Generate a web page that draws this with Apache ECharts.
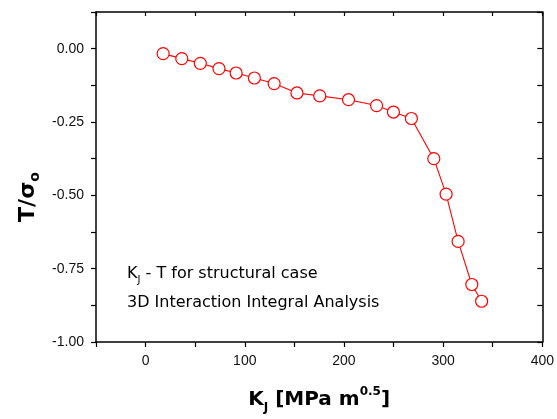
<!DOCTYPE html>
<html>
<head>
<meta charset="utf-8">
<script src="https://cdn.jsdelivr.net/npm/echarts@6/dist/echarts.min.js"></script>
<style>html,body{margin:0;padding:0;background:#fff}#c{width:557px;height:419px}</style>
</head>
<body>
<div id="c"></div>
<script>
var kjValues = [17.7, 36.5, 55.2, 74.0, 91.3, 109.7, 129.6, 152.6, 175.6, 204.6, 232.9, 249.9, 268.0, 290.6, 303.0, 315.1, 328.9, 338.8];
var tValues = [-0.017, -0.034, -0.050, -0.068, -0.083, -0.100, -0.119, -0.151, -0.161, -0.174, -0.194, -0.216, -0.238, -0.375, -0.496, -0.657, -0.804, -0.861];
var xTickLabels = [0, 100, 200, 300, 400];
var yTickLabels = [0.00, -0.25, -0.50, -0.75, -1.00];

var chart = echarts.init(document.getElementById('c'), null, {renderer: 'canvas'});
var pts = kjValues.map(function (k, i) { return [k, tValues[i]]; });
var axisLineStyle = {color: '#000', width: 1.5};
var labelFont = {fontFamily: 'Liberation Sans', fontSize: 14, color: '#111'};

chart.setOption({
  animation: false,
  backgroundColor: '#fff',
  grid: {left: 96, right: 9, top: 12, bottom: 76, containLabel: false},
  xAxis: [{
    type: 'value', min: -50, max: 400, interval: 50, position: 'bottom',
    axisLine: {show: true, onZero: false, lineStyle: axisLineStyle},
    axisTick: {show: true, inside: false, length: 5, lineStyle: {color: '#000', width: 1.2}},
    axisLabel: Object.assign({margin: 12, formatter: function (v) {
      return xTickLabels.indexOf(v) >= 0 ? String(v) : '';
    }}, labelFont),
    splitLine: {show: false},
    name: '{b|K}{s|J}{b| [MPa m}{p|0.5}{b|]}',
    nameLocation: 'middle', nameGap: 44,
    nameTextStyle: {
      rich: {
        b: {fontFamily: 'DejaVu Sans', fontWeight: 'bold', fontSize: 20, color: '#000'},
        s: {fontFamily: 'DejaVu Sans', fontWeight: 'bold', fontSize: 12, color: '#000', padding: [16, 0, 0, 0]},
        p: {fontFamily: 'DejaVu Sans', fontWeight: 'bold', fontSize: 12, color: '#000', padding: [0, 0, 16, 0]}
      }
    }
  }, {
    type: 'value', min: -50, max: 400, interval: 50, position: 'top',
    axisLine: {show: true, onZero: false, lineStyle: axisLineStyle},
    axisTick: {show: true, inside: true, length: 4, lineStyle: {color: '#000', width: 1.2}},
    axisLabel: {show: false}, splitLine: {show: false}
  }],
  yAxis: [{
    type: 'value', min: -1, max: 0.125, interval: 0.125, position: 'left',
    axisLine: {show: true, onZero: false, lineStyle: axisLineStyle},
    axisTick: {show: true, inside: false, length: 5, lineStyle: {color: '#000', width: 1.2}},
    axisLabel: Object.assign({margin: 12, formatter: function (v) {
      for (var i = 0; i < yTickLabels.length; i++) {
        if (Math.abs(v - yTickLabels[i]) < 1e-6) return yTickLabels[i].toFixed(2);
      }
      return '';
    }}, labelFont),
    splitLine: {show: false}
  }, {
    type: 'value', min: -1, max: 0.125, interval: 0.125, position: 'right',
    axisLine: {show: true, onZero: false, lineStyle: axisLineStyle},
    axisTick: {show: true, inside: true, length: 5, lineStyle: {color: '#000', width: 1.2}},
    axisLabel: {show: false}, splitLine: {show: false}
  }],
  graphic: [{
    type: 'text', x: 28, y: 197, rotation: Math.PI / 2,
    style: {
      text: '{b|T/σ}{s|o}',
      align: 'center', verticalAlign: 'middle',
      rich: {
        b: {fontFamily: 'DejaVu Sans', fontWeight: 'bold', fontSize: 22, fill: '#000'},
        s: {fontFamily: 'DejaVu Sans', fontWeight: 'bold', fontSize: 14, fill: '#000', padding: [14, 0, 0, 0]}
      }
    }
  }, {
    type: 'text', left: 127, top: 266,
    style: {
      text: '{m|K}{s|J}{m| - T for structural case}',
      rich: {
        m: {fontFamily: 'DejaVu Sans', fontSize: 16, fill: '#000'},
        s: {fontFamily: 'DejaVu Sans', fontSize: 10, fill: '#000', padding: [12, 0, 0, 0]}
      }
    }
  }, {
    type: 'text', left: 127, top: 295,
    style: {text: '3D Interaction Integral Analysis', font: '16px "DejaVu Sans"', fill: '#000'}
  }],
  series: [{
    type: 'line', xAxisIndex: 0, yAxisIndex: 0,
    data: pts,
    symbol: 'circle', symbolSize: 12,
    itemStyle: {color: '#fff', borderColor: '#ff0000', borderWidth: 1.2},
    lineStyle: {color: '#ff0000', width: 1.1},
    z: 3
  }]
});
</script>
</body>
</html>
